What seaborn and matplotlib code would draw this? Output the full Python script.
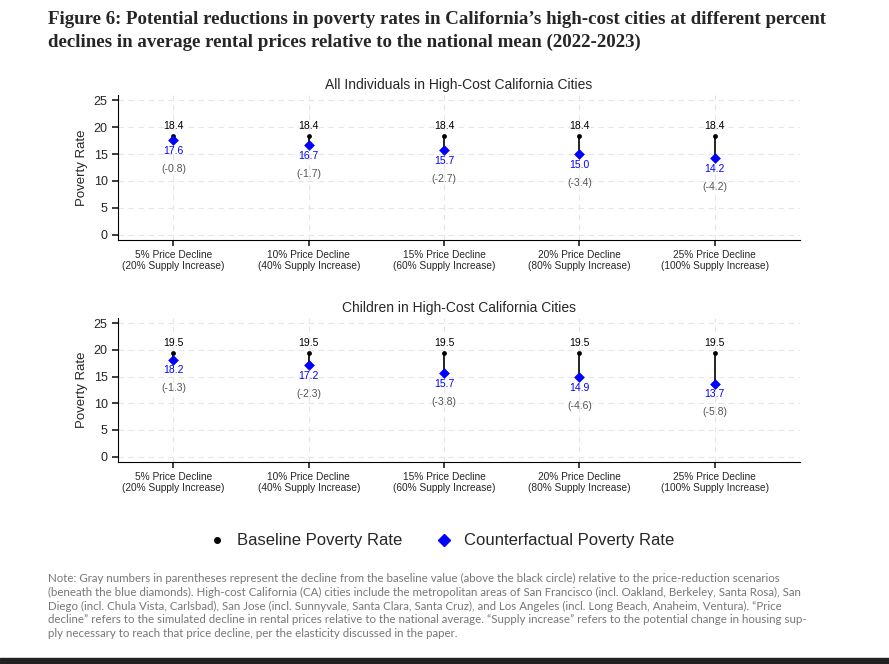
import matplotlib
matplotlib.use("Agg")
import matplotlib.pyplot as plt
import seaborn as sns
import pandas as pd

categories = ["5% Price Decline\n(20% Supply Increase)", "10% Price Decline\n(40% Supply Increase)",
              "15% Price Decline\n(60% Supply Increase)", "20% Price Decline\n(80% Supply Increase)",
              "25% Price Decline\n(100% Supply Increase)"]
baseline_all = [18.4, 18.4, 18.4, 18.4, 18.4]
counter_all = [17.6, 16.7, 15.7, 15.0, 14.2]
diff_all = [-0.8, -1.7, -2.7, -3.4, -4.2]
baseline_kids = [19.5, 19.5, 19.5, 19.5, 19.5]
counter_kids = [18.2, 17.2, 15.7, 14.9, 13.7]
diff_kids = [-1.3, -2.3, -3.8, -4.6, -5.8]

sns.set_theme(style="white")
plt.rcParams['font.family'] = ['Liberation Sans', 'DejaVu Sans']
fig = plt.figure(figsize=(8.89, 6.64), dpi=100)
W, H = 889, 664

fig.text(48/W, 1-11/H, "Figure 6: Potential reductions in poverty rates in California\u2019s high-cost cities at different percent\ndeclines in average rental prices relative to the national mean (2022-2023)",
         family=['Liberation Serif', 'DejaVu Serif'], fontweight='bold', fontsize=13.6, va='top', ha='left', linespacing=1.4)

def panel(top, bottom, title, base, cf, diff):
    ax = fig.add_axes([118/W, 1-bottom/H, (800-118)/W, (bottom-top)/H])
    x = list(range(len(categories)))
    for i in x:
        ax.plot([i, i], [cf[i], base[i]], color='black', lw=1.2, zorder=2)
    df = pd.DataFrame({"x": x, "b": base, "c": cf})
    sns.scatterplot(data=df, x="x", y="b", color='black', s=12, ax=ax, zorder=3, linewidth=0)
    sns.scatterplot(data=df, x="x", y="c", color='blue', marker='D', s=30, ax=ax, zorder=3, linewidth=0)
    for i in x:
        ax.text(i, base[i]+1.9, f"{base[i]:.1f}", ha='center', va='center', fontsize=7.5, color='black')
        ax.text(i, cf[i]-2.0, f"{cf[i]:.1f}", ha='center', va='center', fontsize=7.5, color='blue')
        ax.text(i, cf[i]-5.4, f"({diff[i]:.1f})", ha='center', va='center', fontsize=7.5, color='#555555')
    ax.set_xlim(-0.41, 4.63)
    ax.set_ylim(-1, 26)
    ax.set_yticks([0, 5, 10, 15, 20, 25])
    ax.set_xticks(x)
    ax.set_xticklabels(categories, fontsize=7.3)
    for t in ax.get_xticklabels():
        t.set_linespacing(1.1)
    ax.set_xlabel("")
    ax.set_ylabel("Poverty Rate", fontsize=9.5)
    ax.tick_params(axis='both', length=4, direction='out', left=True, bottom=True, labelsize=9)
    ax.tick_params(axis='x', labelsize=7.3)
    ax.grid(True, ls=(0, (5, 4)), color='#e6e6e6', lw=0.8)
    for s in ['top', 'right']:
        ax.spines[s].set_visible(False)
    for s in ['left', 'bottom']:
        ax.spines[s].set_color('black'); ax.spines[s].set_linewidth(0.8)
    ax.set_title(title, fontsize=10, pad=4)
    return ax

panel(95, 240, "All Individuals in High-Cost California Cities", baseline_all, counter_all, diff_all)
panel(318, 462, "Children in High-Cost California Cities", baseline_kids, counter_kids, diff_kids)

from matplotlib.lines import Line2D
h = [Line2D([], [], marker='o', color='black', ls='', ms=4),
     Line2D([], [], marker='D', color='blue', ls='', ms=6)]
fig.legend(h, ["Baseline Poverty Rate", "Counterfactual Poverty Rate"], loc='center',
           bbox_to_anchor=(437/W, 1-541/H), ncol=2, frameon=False, fontsize=12, handletextpad=0.2, columnspacing=1.5)

fig.text(48/W, 1-573/H, "Note: Gray numbers in parentheses represent the decline from the baseline value (above the black circle) relative to the price-reduction scenarios\n(beneath the blue diamonds). High-cost California (CA) cities include the metropolitan areas of San Francisco (incl. Oakland, Berkeley, Santa Rosa), San\nDiego (incl. Chula Vista, Carlsbad), San Jose (incl. Sunnyvale, Santa Clara, Santa Cruz), and Los Angeles (incl. Long Beach, Anaheim, Ventura). \u201cPrice\ndecline\u201d refers to the simulated decline in rental prices relative to the national average. \u201cSupply increase\u201d refers to the potential change in housing sup-\nply necessary to reach that price decline, per the elasticity discussed in the paper.",
         fontsize=8.3, color='#777777', va='top', ha='left', linespacing=1.3, family=['Lato', 'DejaVu Sans'])
fig.add_artist(plt.Rectangle((0, 0), 1, 6/H, transform=fig.transFigure, color='#222222'))
fig.savefig("out.png", dpi=100)
